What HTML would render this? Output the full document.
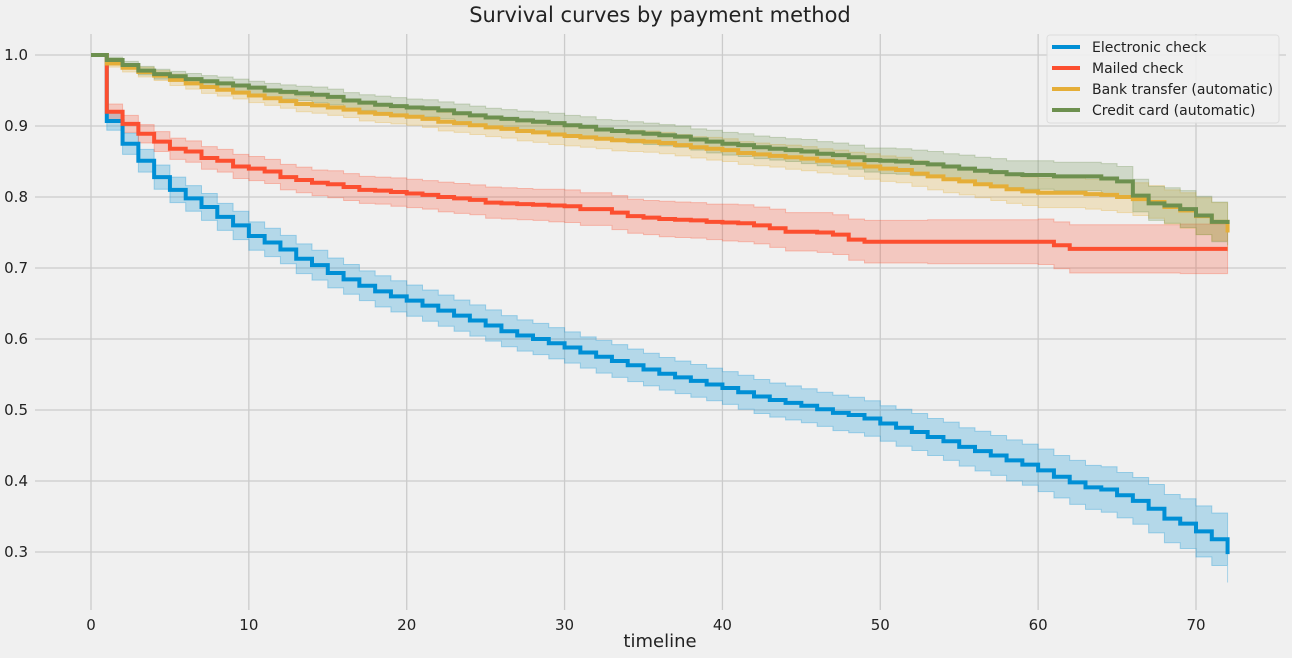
<!DOCTYPE html>
<html><head><meta charset="utf-8"><style>
body{margin:0;background:#f0f0f0;}
svg{display:block;font-family:"DejaVu Sans","Liberation Sans",sans-serif;}
</style></head><body>
<svg id="c" width="1292" height="658">
<rect width="1292" height="658" fill="#f0f0f0"/>
<text x="660" y="22" font-size="21" text-anchor="middle" fill="#222">Survival curves by payment method</text>
<text x="660" y="647" font-size="18" text-anchor="middle" fill="#222">timeline</text>
<g id="grid"></g><g id="bands"></g><g id="lines"></g><g id="ticks"></g>
<g>
<rect x="1047" y="35" width="232" height="88" rx="3" fill="#f0f0f0" stroke="#dcdcdc" opacity="0.9"/>
<g font-size="14" fill="#222">
<line x1="1052" x2="1080" y1="47" y2="47" stroke="#008fd5" stroke-width="4"/>
<text x="1092" y="52">Electronic check</text>
<line x1="1052" x2="1080" y1="68" y2="68" stroke="#fc4f30" stroke-width="4"/>
<text x="1092" y="73">Mailed check</text>
<line x1="1052" x2="1080" y1="89" y2="89" stroke="#e5ae38" stroke-width="4"/>
<text x="1092" y="94">Bank transfer (automatic)</text>
<line x1="1052" x2="1080" y1="110" y2="110" stroke="#6d904f" stroke-width="4"/>
<text x="1092" y="115">Credit card (automatic)</text>
</g></g>
</svg>
<script>
const xTicks=[0,10,20,30,40,50,60,70];
const yTicks=[0.3,0.4,0.5,0.6,0.7,0.8,0.9,1.0];
const yTickLabels=["0.3","0.4","0.5","0.6","0.7","0.8","0.9","1.0"];
const electronic=[1.0,.907,.875,.851,.828,.810,.798,.786,.772,.760,.745,.736,.726,.713,.704,.693,.684,.675,.667,.660,.654,.647,.640,.633,.626,.619,.611,.605,.600,.594,.588,.581,.575,.569,.563,.557,.551,.546,.541,.536,.531,.525,.519,.514,.510,.506,.501,.496,.493,.488,.481,.475,.469,.462,.456,.448,.442,.436,.429,.423,.415,.406,.398,.391,.388,.380,.372,.361,.347,.340,.329,.318,.297];
const electronicCI=[0,.013,.015,.016,.017,.018,.018,.019,.019,.02,.02,.02,.02,.021,.021,.021,.021,.021,.022,.022,.022,.022,.022,.022,.022,.022,.022,.022,.022,.022,.022,.022,.023,.023,.023,.023,.023,.023,.023,.023,.023,.024,.024,.024,.024,.024,.024,.025,.025,.025,.025,.026,.026,.026,.027,.027,.028,.028,.029,.029,.03,.03,.031,.031,.032,.032,.033,.034,.034,.035,.036,.037,.04];
const mailed=[1.0,.920,.903,.889,.878,.868,.864,.855,.851,.843,.840,.836,.828,.824,.820,.818,.814,.810,.809,.807,.805,.803,.800,.798,.796,.792,.791,.790,.789,.788,.787,.783,.783,.778,.773,.771,.769,.768,.767,.765,.764,.763,.760,.756,.751,.751,.750,.747,.740,.737,.737,.737,.737,.737,.737,.737,.737,.737,.737,.737,.737,.732,.727,.727,.727,.727,.727,.727,.727,.727,.727,.727,.727];
const mailedCI=[0,.011,.012,.013,.014,.015,.015,.016,.016,.017,.017,.017,.018,.018,.018,.019,.019,.019,.019,.02,.02,.02,.021,.021,.021,.022,.022,.022,.022,.023,.023,.023,.023,.024,.024,.024,.025,.025,.025,.025,.026,.026,.026,.027,.027,.027,.028,.028,.029,.03,.03,.03,.03,.031,.031,.031,.031,.031,.031,.031,.032,.033,.034,.034,.034,.034,.034,.034,.034,.035,.035,.035,.035];
const bank=[1.0,.988,.982,.976,.971,.965,.960,.955,.951,.947,.943,.939,.935,.931,.929,.926,.923,.919,.917,.915,.913,.910,.906,.904,.901,.898,.896,.893,.891,.888,.886,.884,.882,.880,.879,.878,.876,.873,.870,.868,.866,.862,.860,.858,.856,.854,.851,.849,.846,.843,.840,.838,.833,.829,.825,.822,.818,.815,.811,.808,.806,.806,.806,.804,.803,.800,.797,.793,.786,.781,.773,.765,.750];
const bankCI=[0,.005,.006,.007,.007,.008,.008,.009,.009,.009,.01,.01,.01,.011,.011,.011,.011,.012,.012,.012,.012,.012,.013,.013,.013,.013,.013,.014,.014,.014,.014,.014,.014,.015,.015,.015,.015,.015,.015,.016,.016,.016,.016,.016,.017,.017,.017,.017,.017,.018,.018,.018,.018,.019,.019,.019,.019,.02,.02,.02,.021,.021,.021,.021,.022,.022,.023,.023,.024,.025,.026,.027,.027];
const credit=[1.0,.993,.986,.978,.973,.970,.966,.963,.960,.957,.954,.950,.948,.946,.944,.941,.936,.933,.930,.928,.926,.925,.922,.918,.915,.912,.910,.908,.906,.904,.901,.899,.895,.893,.891,.889,.887,.885,.881,.878,.875,.873,.870,.868,.866,.864,.861,.859,.856,.852,.851,.850,.848,.846,.843,.840,.837,.835,.832,.831,.831,.829,.829,.829,.826,.822,.802,.791,.788,.783,.774,.765,.762];
const creditCI=[0,.004,.005,.006,.007,.007,.008,.008,.009,.009,.009,.01,.01,.01,.011,.011,.011,.011,.012,.012,.012,.012,.012,.013,.013,.013,.013,.013,.014,.014,.014,.014,.014,.015,.015,.015,.015,.015,.015,.016,.016,.016,.016,.016,.016,.017,.017,.017,.017,.017,.018,.018,.018,.018,.018,.019,.019,.019,.019,.02,.02,.02,.02,.02,.021,.021,.023,.024,.025,.026,.027,.028,.03];
const NS="http://www.w3.org/2000/svg";
const L=35,R=1286,T=34,B=610;
function X(t){return 91+t*(1196-91)/70;}
function Y(v){return 55+(1-v)*(552-55)/0.7;}
function mk(tag,attrs,parent){const e=document.createElementNS(NS,tag);for(const k in attrs)e.setAttribute(k,attrs[k]);document.getElementById(parent).appendChild(e);return e;}
xTicks.forEach(t=>{
  const g=mk('line',{x1:X(t),x2:X(t),y1:T,y2:B,stroke:'#cbcbcb','stroke-width':1.3},'grid');
  
  
  const l=mk('text',{x:X(t),y:B+20,'font-size':15,'text-anchor':'middle',fill:'#222'},'ticks');
  l.textContent=String(t);
  
  
});
yTicks.forEach((v,i)=>{
  const g=mk('line',{x1:L,x2:R,y1:Y(v),y2:Y(v),stroke:'#cbcbcb','stroke-width':1.3},'grid');
  
  
  const l=mk('text',{x:28,y:Y(v)+5,'font-size':15,'text-anchor':'end',fill:'#222'},'ticks');
  l.textContent=yTickLabels[i];
  
  
});
function stepPath(vals){let d='M'+X(0)+','+Y(vals[0]);for(let i=1;i<vals.length;i++){d+=' H'+X(i)+' V'+Y(vals[i]);}return d;}
function bandPath(vals,ci){
  let up=[],lo=[];
  for(let i=0;i<vals.length;i++){up.push(Math.min(1,vals[i]+ci[i]));lo.push(vals[i]-ci[i]);}
  let d='M'+X(0)+','+Y(up[0]);
  for(let i=1;i<up.length;i++)d+=' H'+X(i)+' V'+Y(up[i]);
  d+=' V'+Y(lo[lo.length-1]);
  for(let i=lo.length-1;i>0;i--)d+=' V'+Y(lo[i-1])+' H'+X(i-1);
  return d+'Z';
}
const series=[[electronic,electronicCI,'#008fd5','electronic'],[mailed,mailedCI,'#fc4f30','mailed'],[bank,bankCI,'#e5ae38','bank'],[credit,creditCI,'#6d904f','credit']];
series.forEach(s=>{
  const b=mk('path',{d:bandPath(s[0],s[1]),fill:s[2],'fill-opacity':0.25,stroke:s[2],'stroke-opacity':0.3,'stroke-width':1},'bands');
  
  
});
series.forEach(s=>{
  const p=mk('path',{d:stepPath(s[0]),fill:'none',stroke:s[2],'stroke-width':4},'lines');
  
  
});
</script>
</body></html>
